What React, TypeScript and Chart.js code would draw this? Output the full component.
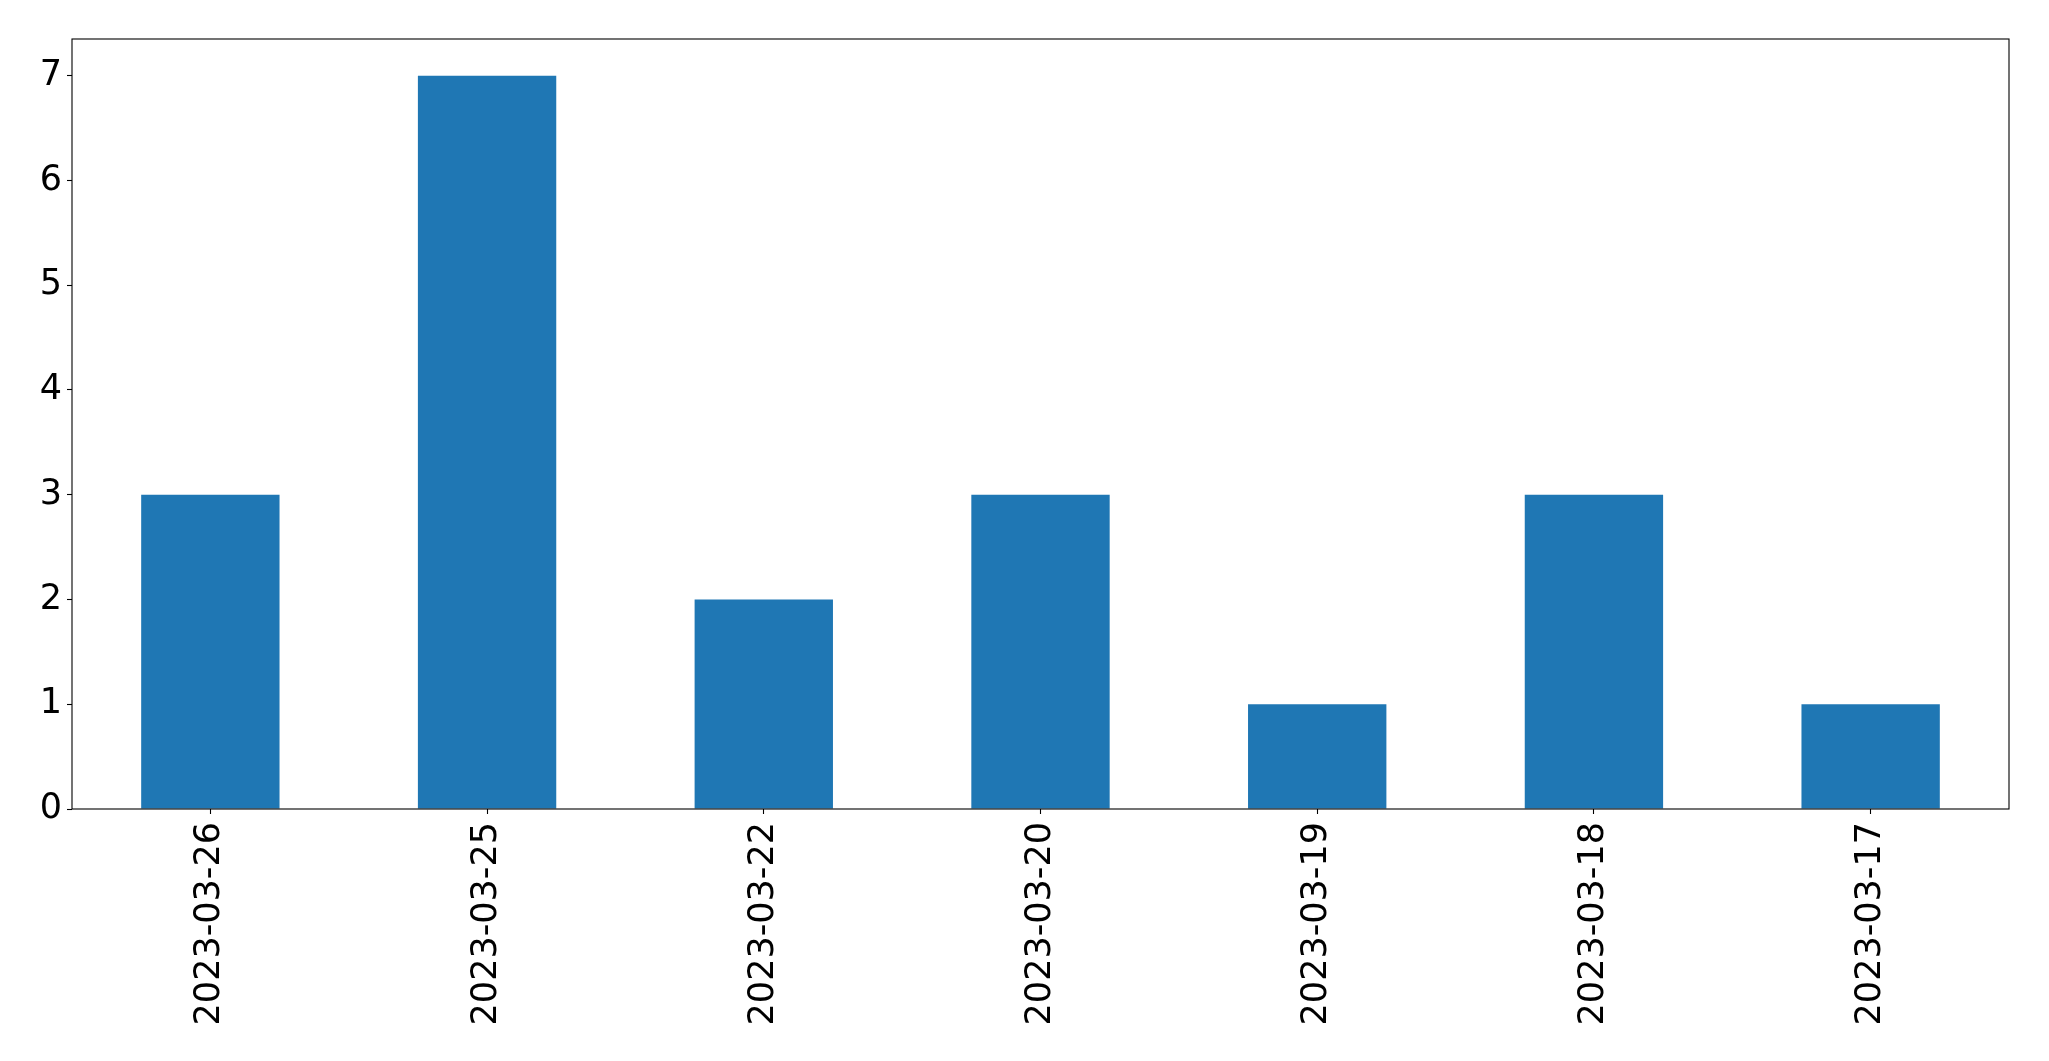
import React, { useEffect, useRef } from 'react';
import { Chart, registerables } from 'chart.js';

Chart.register(...registerables);

const categories = ['2023-03-26', '2023-03-25', '2023-03-22', '2023-03-20', '2023-03-19', '2023-03-18', '2023-03-17'];
const counts = [3, 7, 2, 3, 1, 3, 1];
const yTickValues = [0, 1, 2, 3, 4, 5, 6, 7];
const yMin = 0;
const yMax = 7.35;

const W = 2049;
const H = 1061;

const framePlugin = {
  id: 'frame',
  afterDraw(chart: any) {
    const { ctx, chartArea } = chart;
    ctx.save();
    ctx.strokeStyle = '#000';
    ctx.lineWidth = 1.1;
    ctx.strokeRect(chartArea.left, chartArea.top, chartArea.right - chartArea.left, chartArea.bottom - chartArea.top);
    ctx.restore();
  },
};

export default function App() {
  const ref = useRef<HTMLCanvasElement | null>(null);

  useEffect(() => {
    if (!ref.current) return;
    const font = { family: '"DejaVu Sans", sans-serif', size: 35 };
    const chart = new Chart(ref.current, {
      type: 'bar',
      data: {
        labels: categories,
        datasets: [
          {
            data: counts,
            backgroundColor: '#1f77b4',
            borderWidth: 0,
            barPercentage: 0.5,
            categoryPercentage: 1,
          },
        ],
      },
      options: {
        animation: false,
        responsive: false,
        maintainAspectRatio: false,
        devicePixelRatio: 1,
        layout: { padding: { left: 0, top: 39, right: 40, bottom: 0 } },
        plugins: { legend: { display: false }, tooltip: { enabled: false }, title: { display: false } },
        scales: {
          x: {
            type: 'category',
            offset: true,
            grid: {
              display: true,
              drawOnChartArea: false,
              drawTicks: true,
              tickLength: 5,
              tickColor: '#000',
              tickWidth: 1.1,
              offset: false,
            },
            border: { display: false },
            ticks: {
              color: '#000',
              font,
              minRotation: 90,
              maxRotation: 90,
              autoSkip: false,
              padding: 8,
            },
            afterFit(scale: any) {
              scale.height = 252;
            },
          },
          y: {
            type: 'linear',
            min: yMin,
            max: yMax,
            grid: {
              display: true,
              drawOnChartArea: false,
              drawTicks: true,
              tickLength: 5,
              tickColor: '#000',
              tickWidth: 1.1,
            },
            border: { display: false },
            ticks: {
              color: '#000',
              font,
              padding: 5,
            },
            afterBuildTicks(scale: any) {
              scale.ticks = yTickValues.map((v) => ({ value: v }));
            },
            afterFit(scale: any) {
              scale.width = 72;
            },
          },
        },
      },
      plugins: [framePlugin],
    });
    return () => chart.destroy();
  }, []);

  return (
    <div style={{ position: 'absolute', left: 0, top: 0, width: W, height: H, background: '#fff' }}>
      <canvas ref={ref} width={W} height={H} style={{ width: W, height: H, display: 'block' }} />
    </div>
  );
}
